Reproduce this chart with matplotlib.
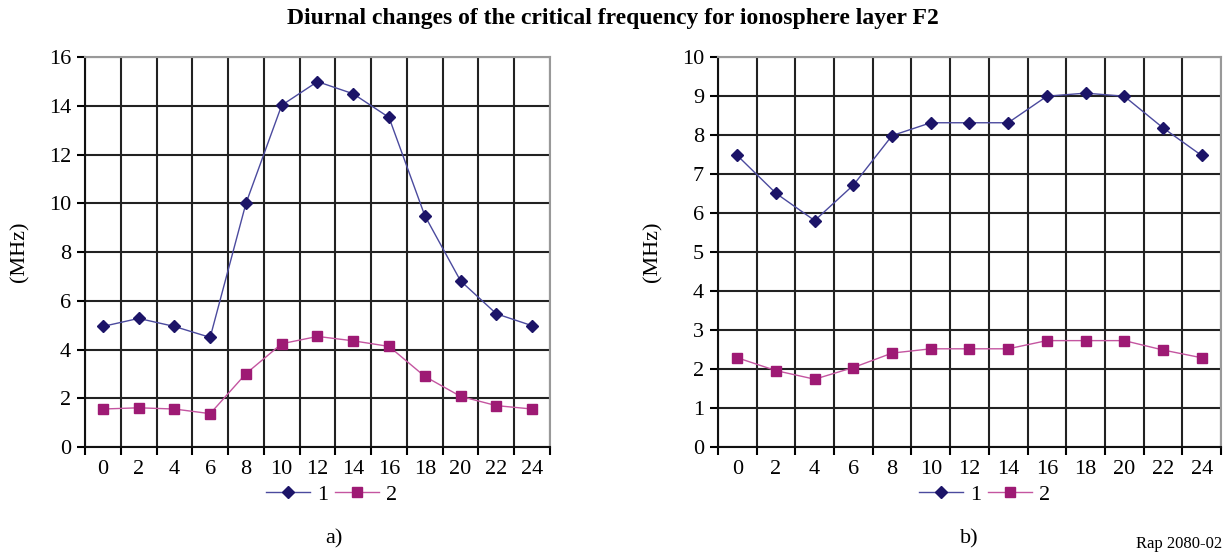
import numpy as np
import matplotlib.pyplot as plt

plt.rcParams['font.family'] = ['Liberation Serif', 'DejaVu Serif']

# hours of the day (category axis)
hours = [0, 2, 4, 6, 8, 10, 12, 14, 16, 18, 20, 22, 24]

# panel a)
a_curve1 = [4.95, 5.28, 4.95, 4.5, 10.0, 14.03, 15.0, 14.5, 13.53, 9.5, 6.82, 5.47, 4.98]
a_curve2 = [1.56, 1.61, 1.56, 1.37, 3.01, 4.24, 4.54, 4.36, 4.13, 2.9, 2.08, 1.7, 1.56]

# panel b)
b_curve1 = [7.48, 6.51, 5.81, 6.72, 7.99, 8.32, 8.32, 8.32, 9.0, 9.08, 9.0, 8.19, 7.48]
b_curve2 = [2.29, 1.96, 1.74, 2.04, 2.41, 2.52, 2.52, 2.52, 2.73, 2.73, 2.73, 2.49, 2.29]

c1_line, c1_mark = '#4b4a9e', '#1c1468'
c2_line, c2_mark = '#c455a0', '#9e1a74'


def draw_panel(ax, y1, y2, ymax, ystep, tag, tag_x):
    x = np.arange(len(hours))
    l1, = ax.plot(x, y1, color=c1_line, lw=1.0, marker='D', ms=6,
                  mfc=c1_mark, mec=c1_mark, zorder=3)
    l2, = ax.plot(x, y2, color=c2_line, lw=1.0, marker='s', ms=6.5,
                  mfc=c2_mark, mec=c2_mark, zorder=3)
    ax.set_xlim(-0.5, len(hours) - 0.5)
    ax.set_ylim(0, ymax)
    ax.set_xticks(x)
    ax.set_xticklabels([str(h) for h in hours])
    ax.set_xticks(np.arange(-0.5, len(hours)), minor=True)
    ax.set_yticks(np.arange(0, ymax + 0.01, ystep))
    ax.tick_params(axis='x', which='major', length=0, pad=9, labelsize=16)
    ax.tick_params(axis='x', which='minor', length=6, width=1.5, direction='out')
    ax.tick_params(axis='y', length=6, width=1.5, labelsize=16, pad=4)
    ax.grid(True, axis='x', which='minor', color='#222222', lw=1.5)
    ax.grid(True, axis='y', which='major', color='#222222', lw=1.5)
    for side in ('left', 'bottom'):
        ax.spines[side].set_linewidth(1.5)
        ax.spines[side].set_color('#111111')
    for side in ('top', 'right'):
        ax.spines[side].set_linewidth(1.5)
        ax.spines[side].set_color('#999999')
    ax.set_ylabel('(MHz)', fontsize=16, labelpad=14)
    ax.legend([l1, l2], ['1', '2'], ncol=2, frameon=False, fontsize=16,
              handlelength=2.0, handletextpad=0.3, columnspacing=0.3,
              loc='upper center', bbox_to_anchor=(0.53, -0.045))
    ax.text(tag_x, -0.235, tag, transform=ax.transAxes, ha='center',
            va='center', fontsize=16)


fig = plt.figure(figsize=(12.26, 5.56), dpi=100)
ax_a = fig.add_axes([0.0693, 0.196, 0.3793, 0.701])
ax_b = fig.add_axes([0.5856, 0.196, 0.4103, 0.701])

draw_panel(ax_a, a_curve1, a_curve2, 16, 2, 'a)', 0.535)
draw_panel(ax_b, b_curve1, b_curve2, 10, 1, 'b)', 0.50)

fig.text(0.5, 0.967, 'Diurnal changes of the critical frequency for ionosphere layer F2',
         ha='center', va='center', fontsize=17, fontweight='bold')
fig.text(0.997, 0.008, 'Rap 2080-02', ha='right', va='bottom', fontsize=12)

fig.savefig('out.png', dpi=100)
